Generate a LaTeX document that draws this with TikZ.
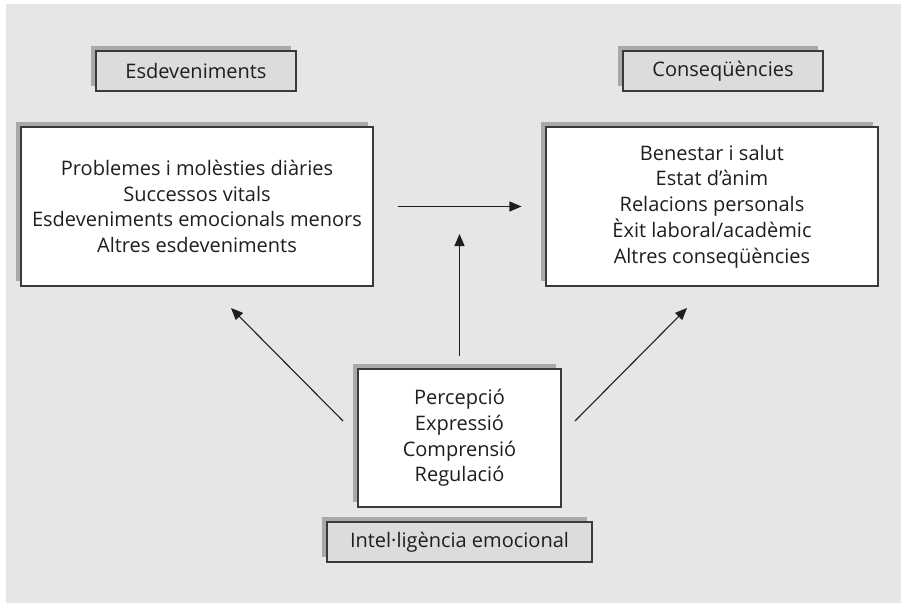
\documentclass[tikz,border=0pt]{standalone}
\usepackage{fontspec}
\setmainfont{Open Sans}
\usetikzlibrary{arrows.meta,shadows}
\definecolor{pagebg}{HTML}{E6E6E6}
\definecolor{shadowgray}{HTML}{A9A9A9}
\definecolor{framegray}{HTML}{3A3A3A}
\definecolor{labelfill}{HTML}{DCDCDC}
\definecolor{inkgray}{HTML}{1E1E1E}
\begin{document}
\begin{tikzpicture}[x=1pt,y=-1pt,
  boxbase/.style={draw=framegray, line width=1.1pt, align=center, inner sep=0pt,
    text=inkgray, font=\fontsize{20}{25.8}\selectfont,
    general shadow={shadow xshift=-5.5pt, shadow yshift=5.5pt, fill=shadowgray}},
  listbox/.style={boxbase, fill=white},
  tagbox/.style={boxbase, fill=labelfill, minimum height=40pt},
  arr/.style={draw=inkgray, line width=1.1pt, -{Triangle[length=12pt,width=10pt]}}]
  % page and grey panel
  \useasboundingbox (0,0) rectangle (901,603);
  \fill[white] (0,0) rectangle (901,603);
  \fill[pagebg] (6,4) rectangle (901,603);

  % headings
  \node[tagbox, minimum width=200pt] (evtag) at (196,71) {Esdeveniments};
  \node[tagbox, minimum width=200pt] (contag) at (723,71) {Conseqüències};

  % main boxes
  \node[listbox, minimum width=352pt, minimum height=159pt] (events) at (197,206.5)
    {Problemes i molèsties diàries\\Successos vitals\\Esdeveniments emocionals menors\\Altres esdeveniments};
  \node[listbox, minimum width=332pt, minimum height=159pt] (outcomes) at (712,206.5)
    {Benestar i salut\\Estat d’ànim\\Relacions personals\\Èxit laboral/acadèmic\\Altres conseqüències};
  \node[listbox, minimum width=203pt, minimum height=138pt] (skills) at (459.5,438)
    {Percepció\\Expressió\\Comprensió\\Regulació};
  \node[tagbox, minimum width=265pt] (ietag) at (459.5,542) {Intel·ligència emocional};

  % free arrow ends
  \coordinate (uptip) at (459.5,234);
  \coordinate (ltail) at (343,421);
  \coordinate (ltip) at (231,308);
  \coordinate (rtail) at (575,421);
  \coordinate (rtip) at (687,308);

  % connectors
  \draw[arr, shorten <=24pt, shorten >=24pt] (events.east) -- (outcomes.west);
  \draw[arr] ([yshift=12pt]skills.north) -- (uptip);
  \draw[arr] (ltail) -- (ltip);
  \draw[arr] (rtail) -- (rtip);
\end{tikzpicture}
\end{document}
